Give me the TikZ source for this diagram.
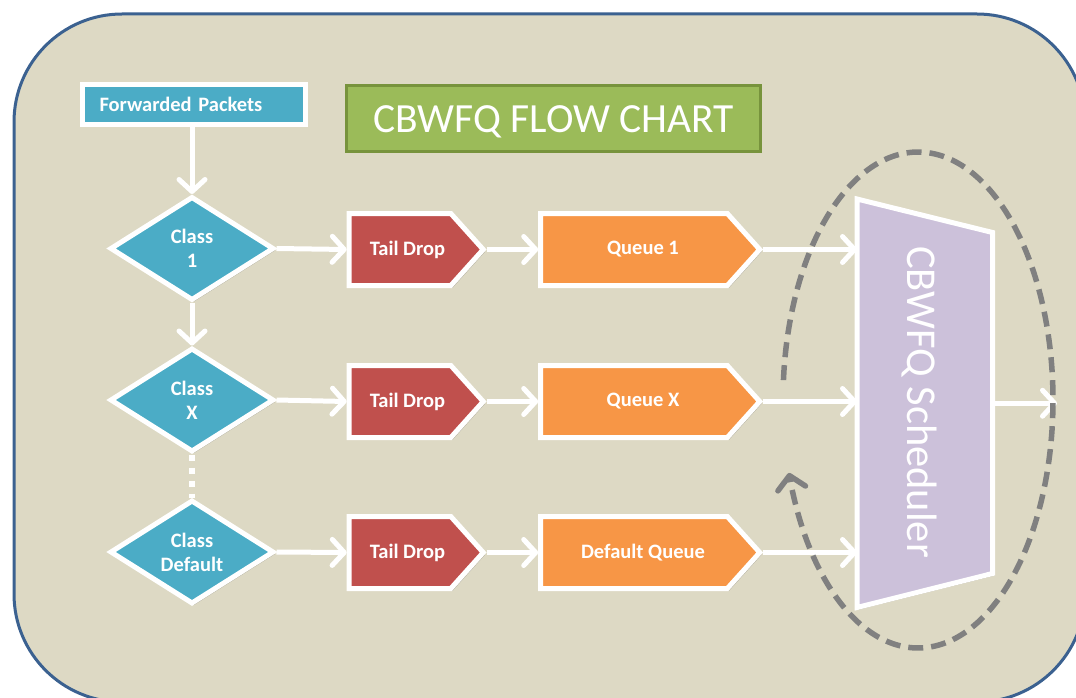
\documentclass[tikz,border=0pt]{standalone}
\usepackage{fontspec}
\setmainfont{Carlito}
\usetikzlibrary{shapes.geometric,shapes.symbols,arrows.meta,shadows,calc}

\definecolor{panelfill}{HTML}{DDD9C4}
\definecolor{panelline}{HTML}{3B6190}
\definecolor{cblue}{HTML}{4BACC6}
\definecolor{cred}{HTML}{C0504D}
\definecolor{corange}{HTML}{F79646}
\definecolor{cgreen}{HTML}{9BBB59}
\definecolor{cgreendark}{HTML}{77933C}
\definecolor{cpurple}{HTML}{CCC1DA}
\definecolor{cgray}{HTML}{808080}

\tikzset{
  softshadow/.style={drop shadow={shadow xshift=2pt, shadow yshift=-2pt, opacity=.25, fill=black}},
  labelfont/.style={font=\bfseries\fontsize{20.5}{24}\selectfont, text=white},
  startbox/.style={rectangle, fill=cblue, draw=white, line width=5pt, softshadow,
    labelfont, minimum height=40pt, inner xsep=17pt, text width=189pt, align=left},
  titlebox/.style={rectangle, fill=cgreen, draw=cgreendark, line width=3pt,
    text=white, font=\fontsize{41.5}{48}\selectfont,
    text height=29pt, text depth=0pt,
    minimum width=414pt, minimum height=66pt},
  classbox/.style={diamond, aspect=1.6, fill=cblue, draw=white, line width=5pt, softshadow,
    minimum width=164pt, minimum height=104pt, inner sep=0pt, align=center, labelfont},
  dropbox/.style={signal, signal to=east, signal pointer angle=96, fill=cred,
    draw=white, line width=5pt, softshadow, labelfont,
    minimum width=134pt, minimum height=72pt, inner sep=0pt},
  queuebox/.style={dropbox, fill=corange, minimum width=219pt},
  flow/.style={draw=white, line width=5pt,
    -{Straight Barb[round, length=12pt, width=26pt]}},
  dotflow/.style={draw=white, line width=6pt, dash pattern=on 6pt off 7pt},
  cycle/.style={draw=cgray, line width=5.5pt, dash pattern=on 15pt off 8pt,
    -{Straight Barb[round, length=13pt, width=28pt]}}
}

\begin{document}
\begin{tikzpicture}[x=1pt, y=-1pt]
  \useasboundingbox (0,0) rectangle (1076,698);
  \clip (0,0) rectangle (1076,698);

  % rounded panel behind the chart
  \draw[panelline, line width=3pt, fill=panelfill, rounded corners=108pt]
    (14,14) rectangle (1085,702);

  % title and entry point
  \node[titlebox] (title) at (553.5,118.5) {CBWFQ FLOW CHART};
  \node[startbox] (fwd) at (194,104.5) {Forwarded Packets};

  % classifiers
  \node[classbox] (c1) at (192,248.5) {Class\\1};
  \node[classbox] (cx) at (192,400) {Class\\X};
  \node[classbox] (cd) at (192,552) {Class\\Default};

  % tail drop stages
  \node[dropbox] (t1) at (400,249.5) {\hspace*{15pt}Tail Drop};
  \node[dropbox] (tx) at (400,401.5) {\hspace*{15pt}Tail Drop};
  \node[dropbox] (td) at (400,552.5) {\hspace*{15pt}Tail Drop};

  % queues
  \node[queuebox] (q1) at (634,249.5) {\hspace*{18pt}Queue 1};
  \node[queuebox] (qx) at (634,401.5) {\hspace*{18pt}Queue X};
  \node[queuebox] (qd) at (634,552.5) {\hspace*{18pt}Default Queue};

  % scheduler
  \node[rectangle, minimum width=133pt, minimum height=403.5pt, inner sep=0pt,
        outer sep=2.5pt] (sched) at (926,403.25) {};
  \draw[fill=cpurple, draw=white, line width=5pt, line join=miter, softshadow]
    (sched.north west) -- ($(sched.north east)+(-2.5,33.5)$)
    -- ($(sched.south east)+(-2.5,-34)$) -- (sched.south west) -- cycle;
  \node[rotate=-90, anchor=base, text=white, font=\fontsize{42.5}{50}\selectfont]
    (schedlabel) at (907,402) {CBWFQ Scheduler};
  \coordinate (out) at (1057,403.25);

  % connectors
  \draw[flow] (fwd.south -| c1.north) -- (c1.north);
  \draw[flow] (c1.south) -- (cx.north);
  \draw[dotflow] (cx.south) -- (cd.north);

  \draw[flow] (c1.east) -- (t1.west);
  \draw[flow] (cx.east) -- (tx.west);
  \draw[flow] (cd.east) -- (td.west);

  \draw[flow] (t1.east) -- (q1.west);
  \draw[flow] (tx.east) -- (qx.west);
  \draw[flow] (td.east) -- (qd.west);

  \draw[flow] (q1.east) -- (q1.east -| sched.west);
  \draw[flow] (qx.east) -- (qx.east -| sched.west);
  \draw[flow] (qd.east) -- (qd.east -| sched.west);

  \draw[flow] (sched.east |- out) -- (out);

  % round-robin cycle around the scheduler
  \draw[cycle] plot[domain=184.6:522.9, samples=140, smooth]
    ({918+135*cos(\x)}, {400+248*sin(\x)});
\end{tikzpicture}
\end{document}
